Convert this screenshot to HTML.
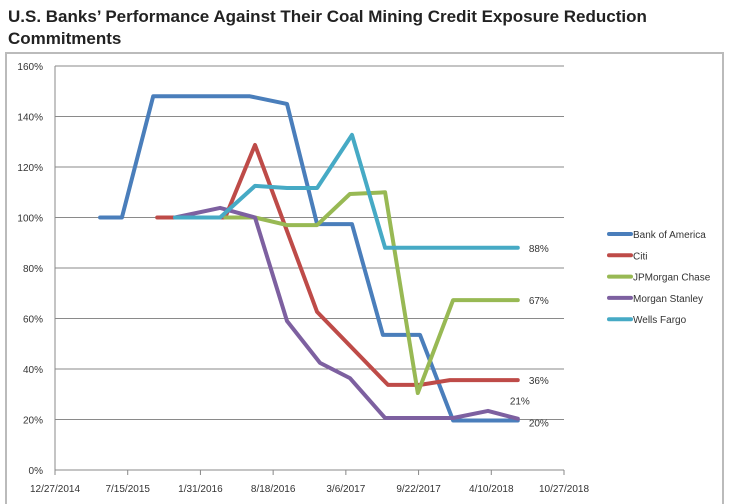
<!DOCTYPE html>
<html><head><meta charset="utf-8"><style>
body{margin:0;background:#fff;width:731px;height:504px;overflow:hidden;font-family:"Liberation Sans",sans-serif}
#title{position:absolute;left:8px;top:6px;font-weight:bold;font-size:17px;line-height:22px;color:#222}
svg{position:absolute;left:0;top:0}
</style></head><body>
<div id="title">U.S. Banks’ Performance Against Their Coal Mining Credit Exposure Reduction<br>Commitments</div>
<svg id="chart" width="731" height="504"></svg>
<script>
const baseDate='2014-12-27';
const xTickLabels=['12/27/2014','7/15/2015','1/31/2016','8/18/2016','3/6/2017','9/22/2017','4/10/2018','10/27/2018'];
const yTickLabels=['0%','20%','40%','60%','80%','100%','120%','140%','160%'];
const seriesNames=['Bank of America','Citi','JPMorgan Chase','Morgan Stanley','Wells Fargo'];
const colors=['#4a7ebb','#be4b48','#98b954','#7d60a0','#46aac5'];
const bofaDates=['2015-04-30','2015-06-29','2015-09-23','2016-06-15','2016-09-25','2016-12-17','2017-03-23','2017-06-16','2017-09-26','2017-12-26','2018-06-22'];
const bofaValues=[100,100,148,148,145,97.4,97.4,53.5,53.5,19.6,19.6];
const citiDates=['2015-10-04','2015-11-22','2016-04-08','2016-06-29','2016-12-17','2017-06-30','2017-09-26','2017-12-17','2018-06-22'];
const citiValues=[100,100,100,128.7,62.6,33.7,33.7,35.6,35.6];
const jpmDates=['2016-04-08','2016-06-29','2016-09-25','2016-12-17','2017-03-17','2017-06-22','2017-09-20','2017-12-26','2018-06-22'];
const jpmValues=[100,100,97,97,109.3,110,30.5,67.3,67.3];
const msDates=['2015-11-22','2016-03-25','2016-06-29','2016-09-25','2016-12-25','2017-03-17','2017-06-22','2017-09-26','2017-12-26','2018-04-01','2018-06-22'];
const msValues=[100,103.8,100,59,42.4,36.4,20.6,20.6,20.6,23.4,20.3];
const wfDates=['2015-11-22','2016-03-25','2016-06-29','2016-09-25','2016-12-17','2017-03-23','2017-06-22','2018-06-22'];
const wfValues=[100,100,112.5,111.7,111.7,132.7,88,88];
const endLabels=['20%','36%','67%','21%','88%'];
const allDates=[bofaDates,citiDates,jpmDates,msDates,wfDates];
const allValues=[bofaValues,citiValues,jpmValues,msValues,wfValues];

const svg=document.getElementById('chart');const NS='http://www.w3.org/2000/svg';
function mk(t,a,p){const e=document.createElementNS(NS,t);for(const k in a)e.setAttribute(k,a[k]);(p||svg).appendChild(e);return e;}
const X0=55,X1=564,Y0=470,Y1=66;
const day=d=>(new Date(d)-new Date(baseDate))/86400000;
const xs=d=>X0+day(d)*(X1-X0)/1400;
const ys=v=>Y0-v*(Y0-Y1)/160;

const frame=mk('rect',{x:6,y:53,width:717,height:460,fill:'none',stroke:'#bbb','stroke-width':2});


yTickLabels.forEach((l,i)=>{const y=ys(i*20);
 const g=mk('line',{x1:X0,x2:X1,y1:y,y2:y,stroke:'#8a8a8a','stroke-width':1});
 
 
 const t=mk('text',{x:X0-12,y:y+4,'text-anchor':'end','font-size':10,fill:'#333'});t.textContent=l;
 
 
});
const ax=mk('line',{x1:X0,x2:X0,y1:Y1,y2:Y0,stroke:'#888'});


xTickLabels.forEach((l,i)=>{const x=X0+i*(X1-X0)/7;
 const tk=mk('line',{x1:x,x2:x,y1:Y0,y2:Y0+5,stroke:'#888'});
 
 
 const t=mk('text',{x:x,y:Y0+22,'text-anchor':'middle','font-size':10,fill:'#333'});t.textContent=l;
 
 
});
allDates.forEach((ds,s)=>{
 const pts=ds.map((d,i)=>xs(d).toFixed(1)+','+ys(allValues[s][i]).toFixed(1)).join(' ');
 const p=mk('polyline',{points:pts,fill:'none',stroke:colors[s],'stroke-width':4,'stroke-linejoin':'round','stroke-linecap':'round'});
 
 
 const lv=allValues[s][allValues[s].length-1];const lx=xs(ds[ds.length-1]);
 let ly=ys(lv)+4; if(s==3) ly=ys(lv)-14; if(s==0) ly=ys(lv)+6;
 const t=mk('text',{x:s==3?lx-8:lx+11,y:ly,'font-size':10,fill:'#333'});t.textContent=endLabels[s];
 
 
 const ly2=234+s*21.3;
 const ll=mk('line',{x1:609,x2:631,y1:ly2,y2:ly2,stroke:colors[s],'stroke-width':4,'stroke-linecap':'round'});
 
 
 const lt=mk('text',{x:633,y:ly2+4,'font-size':10,fill:'#333'});lt.textContent=seriesNames[s];
 
 
});
</script>
</body></html>
